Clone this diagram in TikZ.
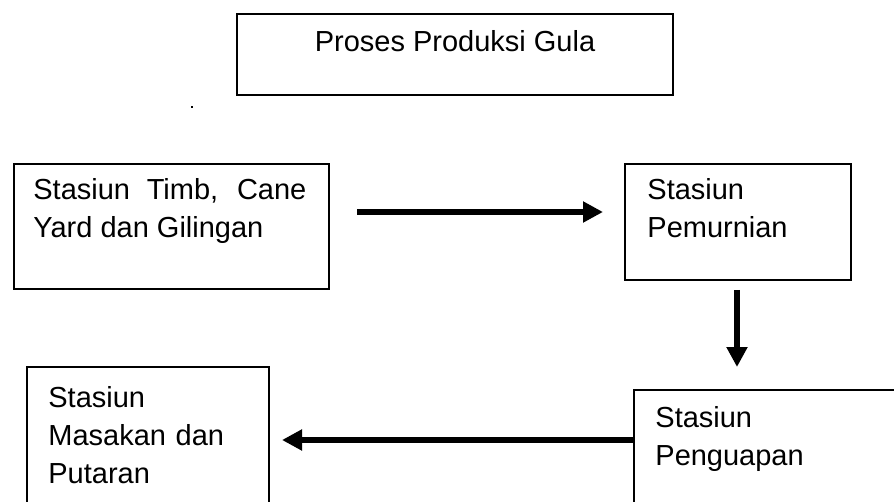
\documentclass[tikz,border=0pt]{standalone}
\usepackage{fontspec}
\setmainfont{Liberation Sans}
\usetikzlibrary{arrows.meta,calc}
\tikzset{
	kotak/.style={draw, line width=1pt, anchor=north west, inner sep=0pt},
	isi/.style={inner sep=0pt, anchor=base west, text width=100pt, align=left},
	panah/.style={->, line width=3pt},
}
\begin{document}
\begin{tikzpicture}[x=.5pt, y=-.5pt, font=\fontsize{14.5}{19}\selectfont, >={Triangle[length=10pt,width=10pt]}]
	\useasboundingbox (0,0) rectangle (894,502);
	\clip (0,0) rectangle (894,502);
	% kotak-kotak
	\node[kotak, minimum width=218pt, minimum height=40.5pt] (judul) at (236,13) {};
	\node[kotak, minimum width=157.5pt, minimum height=62.5pt] (timb) at (13,163) {};
	\node[kotak, minimum width=113pt, minimum height=58pt] (pemurnian) at (624,163) {};
	\node[kotak, minimum width=150pt, minimum height=75pt] (penguapan) at (633,389) {};
	\node[kotak, minimum width=121pt, minimum height=75pt] (masakan) at (26,366) {};
	% teks
	\node[inner sep=0pt, anchor=base] (judul-teks) at ($(judul.north)+(0,39)$) {Proses Produksi Gula};
	\node[isi, text width=136.5pt, align=justify] (timb-teks) at ($(timb.north west)+(20,37)$) {Stasiun Timb, Cane Yard dan Gilingan};
	\node[isi] (pemurnian-teks) at ($(pemurnian.north west)+(23,37)$) {Stasiun\\Pemurnian};
	\node[isi] (penguapan-teks) at ($(penguapan.north west)+(22,38)$) {Stasiun\\Penguapan};
	\node[isi] (masakan-teks) at ($(masakan.north west)+(22,41)$) {Stasiun\\Masakan dan\\Putaran};
	\fill (191,106) rectangle (193,108);
	% panah
	\draw[panah] ($(timb.north east)+(27,49)$) -- ($(pemurnian.north west)+(-21,49)$);
	\draw[panah] ($(pemurnian.south west)+(113,9)$) -- ($(penguapan.north west)+(104,-22)$);
	\draw[panah] ($(penguapan.north west)+(0,51)$) -- ($(masakan.north east)+(12,74)$);
\end{tikzpicture}
\end{document}
